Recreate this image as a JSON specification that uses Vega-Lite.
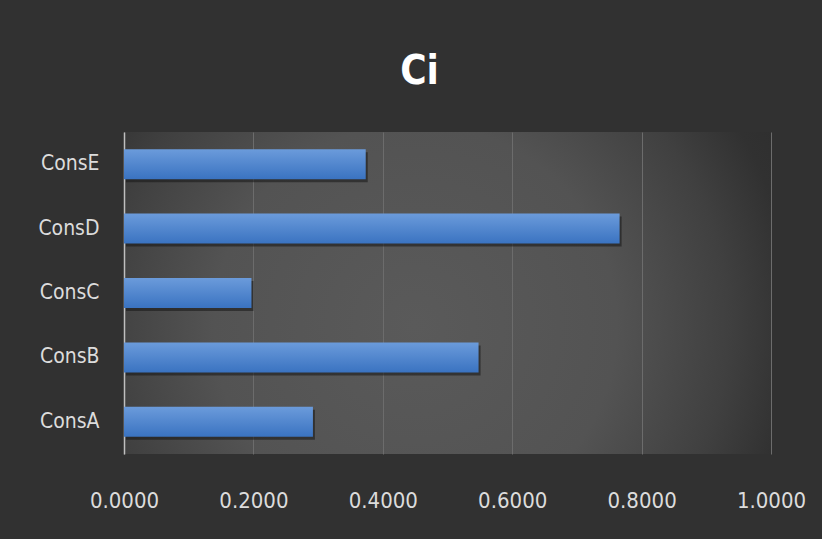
{
  "$schema": "https://vega.github.io/schema/vega-lite/v6.json",
  "autosize": "none",
  "width": 647,
  "height": 322,
  "padding": {"left": 124, "top": 132, "right": 51, "bottom": 85},
  "background": "#313131",
  "title": {
    "text": "Ci",
    "font": "DejaVu Sans Condensed, Roboto, sans-serif",
    "fontSize": 40,
    "fontWeight": "bold",
    "color": "#ffffff",
    "anchor": "middle",
    "baseline": "alphabetic",
    "offset": 8,
    "dx": -28
  },
  "config": {
    "view": {
      "stroke": null,
      "fill": {
        "gradient": "radial",
        "x1": 0.45, "y1": 0.55, "r1": 0,
        "x2": 0.45, "y2": 0.55, "r2": 0.78,
        "stops": [
          {"offset": 0, "color": "#5a5a5a"},
          {"offset": 0.4, "color": "#535353"},
          {"offset": 0.62, "color": "#404040"},
          {"offset": 0.75, "color": "#313131"},
          {"offset": 1, "color": "#292929"}
        ]
      }
    }
  },
  "data": {
    "values": [
      {"cons": "ConsA", "ci": 0.292},
      {"cons": "ConsB", "ci": 0.548},
      {"cons": "ConsC", "ci": 0.197},
      {"cons": "ConsD", "ci": 0.766},
      {"cons": "ConsE", "ci": 0.3736}
    ]
  },
  "encoding": {
    "y": {
      "field": "cons",
      "type": "nominal",
      "sort": ["ConsE", "ConsD", "ConsC", "ConsB", "ConsA"],
      "scale": {"paddingInner": 0.534, "paddingOuter": 0.267},
      "axis": {
        "title": null,
        "ticks": false,
        "tickSize": 0,
        "grid": false,
        "domain": true,
        "domainColor": "#bfbfbf",
        "domainWidth": 1.5,
        "labelFont": "DejaVu Sans Condensed, Roboto, sans-serif",
        "labelFontSize": 21,
        "labelColor": "#dcdcdc",
        "labelPadding": 25
      }
    },
    "x": {
      "field": "ci",
      "type": "quantitative",
      "scale": {"domain": [0, 1], "nice": false},
      "axis": {
        "title": null,
        "values": [0, 0.2, 0.4, 0.6, 0.8, 1.0],
        "format": ".4f",
        "domain": false,
        "ticks": false,
        "tickSize": 0,
        "grid": true,
        "gridColor": "#6c6c6c",
        "gridWidth": 1,
        "labelFlush": false,
        "labelFont": "DejaVu Sans Condensed, Roboto, sans-serif",
        "labelFontSize": 22,
        "labelColor": "#dcdcdc",
        "labelBaseline": "alphabetic",
        "labelPadding": 53
      }
    }
  },
  "layer": [
    {
      "mark": {"type": "bar", "color": "#151515", "opacity": 0.55, "xOffset": 2, "yOffset": 3}
    },
    {
      "mark": {
        "type": "bar",
        "color": {
          "gradient": "linear",
          "x1": 0, "y1": 0, "x2": 0, "y2": 1,
          "stops": [
            {"offset": 0, "color": "#6b9bdb"},
            {"offset": 1, "color": "#3a73c1"}
          ]
        }
      }
    }
  ]
}
